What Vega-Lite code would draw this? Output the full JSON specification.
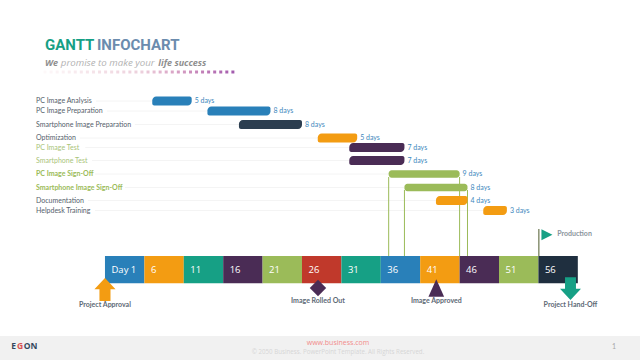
{"$schema":"https://vega.github.io/schema/vega-lite/v6.json","width":640,"height":360,"padding":0,"autosize":{"type":"none"},"background":"white","config":{"view":{"stroke":null},"text":{"font":"Lato"}},
"encoding":{"x":{"field":"day","type":"quantitative","axis":null,"scale":{"domain":[-12.32,68.89],"nice":false,"zero":false,"padding":0}},"y":{"field":"lane","type":"quantitative","axis":null,"scale":{"domain":[360,0],"nice":false,"zero":false,"padding":0}}},
"datasets":{"tasks":[
{"task":"PC Image Analysis","day":7,"end":12,"lane":101,"duration":"5 days","phase":"image","guide":-0.14,"labelgroup":"plain"},
{"task":"PC Image Preparation","day":14,"end":22,"lane":111,"duration":"8 days","phase":"image","guide":1.25,"labelgroup":"plain"},
{"task":"Smartphone Image Preparation","day":18,"end":26,"lane":124.5,"duration":"8 days","phase":"phone","guide":4.8,"labelgroup":"plain"},
{"task":"Optimization","day":28,"end":33,"lane":138,"duration":"5 days","phase":"tune","guide":-2.2,"labelgroup":"plain"},
{"task":"PC Image Test","day":32,"end":39,"lane":147.5,"duration":"7 days","phase":"test","guide":-1.5,"labelgroup":"test"},
{"task":"Smartphone Test","day":32,"end":39,"lane":160.5,"duration":"7 days","phase":"test","guide":-0.65,"labelgroup":"test"},
{"task":"PC Image Sign-Off","day":37,"end":46,"lane":174,"duration":"9 days","phase":"signoff","guide":-0.27,"labelgroup":"signoff"},
{"task":"Smartphone Image Sign-Off","day":39,"end":47,"lane":187.5,"duration":"8 days","phase":"signoff","guide":3.54,"labelgroup":"signoff"},
{"task":"Documentation","day":43,"end":47,"lane":200.5,"duration":"4 days","phase":"tune","guide":-1.16,"labelgroup":"plain"},
{"task":"Helpdesk Training","day":49,"end":52,"lane":210.5,"duration":"3 days","phase":"tune","guide":-0.27,"labelgroup":"plain"}],
"blocks":[
{"label":"Day 1","day":1,"end":6,"lane":256,"bottom":283.3,"tone":"a"},
{"label":"6","day":6,"end":11,"lane":256,"bottom":283.3,"tone":"b"},
{"label":"11","day":11,"end":16,"lane":256,"bottom":283.3,"tone":"c"},
{"label":"16","day":16,"end":21,"lane":256,"bottom":283.3,"tone":"d"},
{"label":"21","day":21,"end":26,"lane":256,"bottom":283.3,"tone":"e"},
{"label":"26","day":26,"end":31,"lane":256,"bottom":283.3,"tone":"f"},
{"label":"31","day":31,"end":36,"lane":256,"bottom":283.3,"tone":"c"},
{"label":"36","day":36,"end":41,"lane":256,"bottom":283.3,"tone":"a"},
{"label":"41","day":41,"end":46,"lane":256,"bottom":283.3,"tone":"b"},
{"label":"46","day":46,"end":51,"lane":256,"bottom":283.3,"tone":"d"},
{"label":"51","day":51,"end":56,"lane":256,"bottom":283.3,"tone":"e"},
{"label":"56","day":56,"end":61,"lane":256,"bottom":283.3,"tone":"g"}]},
"layer":[
{"data":{"values":[{"day":-12.32,"end":68.89,"lane":336,"bottom":360}]},"mark":{"type":"rect","color":"#f1f1f1"},"encoding":{"x2":{"field":"end"},"y2":{"field":"bottom"}}},
{"data":{"name":"tasks"},"mark":{"type":"rule","color":"#f4f4f4","strokeWidth":1},"encoding":{"x":{"field":"guide","type":"quantitative"},"x2":{"field":"day"}}},
{"data":{"values":[{"day":37,"lane":177,"bottom":256},{"day":46,"lane":177,"bottom":256},{"day":39,"lane":190,"bottom":256},{"day":47,"lane":190,"bottom":256}]},"mark":{"type":"rule","color":"#9bbb59","strokeWidth":1},"encoding":{"y2":{"field":"bottom"}}},
{"data":{"name":"tasks"},"transform":[{"filter":"datum.phase !== 'signoff'"}],"mark":{"type":"bar","orient":"horizontal","height":9,"cornerRadiusTopLeft":4,"cornerRadiusBottomLeft":2,"cornerRadiusTopRight":2,"cornerRadiusBottomRight":4},"encoding":{"x2":{"field":"end"},"color":{"field":"phase","type":"nominal","legend":null,"scale":{"domain":["image","phone","tune","test"],"range":["#2980b9","#2c3e50","#f39c12","#4a2c55"]}}}},
{"data":{"name":"tasks"},"transform":[{"filter":"datum.phase === 'signoff'"}],"mark":{"type":"bar","orient":"horizontal","height":7.5,"cornerRadius":3,"color":"#9bbb59"},"encoding":{"x2":{"field":"end"}}},
{"data":{"name":"tasks"},"mark":{"type":"text","align":"left","baseline":"middle","dx":3,"fontSize":7,"color":"#3d87bd"},"encoding":{"x":{"field":"end","type":"quantitative"},"text":{"field":"duration"}}},
{"data":{"name":"tasks"},"transform":[{"filter":"datum.labelgroup === 'plain'"}],"mark":{"type":"text","align":"left","baseline":"middle","fontSize":7,"color":"#55606b"},"encoding":{"x":{"datum":-7.755},"text":{"field":"task"}}},
{"data":{"name":"tasks"},"transform":[{"filter":"datum.labelgroup === 'test'"}],"mark":{"type":"text","align":"left","baseline":"middle","fontSize":7,"color":"#a9c47a"},"encoding":{"x":{"datum":-7.755},"text":{"field":"task"}}},
{"data":{"name":"tasks"},"transform":[{"filter":"datum.labelgroup === 'signoff'"}],"mark":{"type":"text","align":"left","baseline":"middle","fontSize":7,"fontWeight":"bold","color":"#9bbb59"},"encoding":{"x":{"datum":-7.755},"text":{"field":"task"}}},
{"data":{"name":"blocks"},"mark":{"type":"rect"},"encoding":{"x2":{"field":"end"},"y2":{"field":"bottom"},"color":{"field":"tone","type":"nominal","legend":null,"scale":{"domain":["a","b","c","d","e","f","g"],"range":["#2980b9","#f39c12","#16a085","#4a2c55","#9bbb59","#c0392b","#1f2f3f"]}}}},
{"data":{"name":"blocks"},"mark":{"type":"text","align":"left","baseline":"middle","dx":6.5,"font":"Open Sans","fontSize":9.5,"color":"#ffffff"},"encoding":{"y":{"datum":270},"text":{"field":"label"}}},
{"data":{"values":[{"day":56.06,"lane":229,"bottom":256}]},"mark":{"type":"rule","color":"#4e5a2c","strokeWidth":1},"encoding":{"y2":{"field":"bottom"}}},
{"data":{"values":[{"day":1,"lane":289.5}]},"mark":{"type":"point","filled":true,"opacity":1,"color":"#f39c12","size":529,"shape":"M0,-1 L0.92,-0.02 L0.48,-0.02 L0.48,1 L-0.48,1 L-0.48,-0.02 L-0.92,-0.02 Z"}},
{"data":{"values":[{"day":28.03,"lane":288}]},"mark":{"type":"point","filled":true,"opacity":1,"color":"#4a2c55","size":270,"shape":"diamond"}},
{"data":{"values":[{"day":43.04,"lane":288}]},"mark":{"type":"point","filled":true,"opacity":1,"color":"#4a2c55","size":303,"shape":"M0,-1 L0.9,1 L-0.9,1 Z"}},
{"data":{"values":[{"day":60.07,"lane":288.6}]},"mark":{"type":"point","filled":true,"opacity":1,"color":"#16a085","size":520,"shape":"M-0.48,-1 L0.48,-1 L0.48,0.02 L0.92,0.02 L0,1 L-0.92,0.02 L-0.48,0.02 Z"}},
{"data":{"values":[{"day":57.08,"lane":234.7}]},"mark":{"type":"point","filled":true,"opacity":1,"color":"#16a085","size":121,"shape":"M-1,-1 L1,0 L-1,1 Z"}},
{"data":{"values":[{"day":1,"lane":305,"note":"Project Approval"},{"day":28.03,"lane":301,"note":"Image Rolled Out"},{"day":43.04,"lane":301,"note":"Image Approved"},{"day":60.07,"lane":305,"note":"Project Hand-Off"}]},"mark":{"type":"text","align":"center","baseline":"middle","fontSize":7,"fontWeight":"bold","color":"#5d6975"},"encoding":{"text":{"field":"note"}}},
{"data":{"values":[{"day":58.39,"lane":234,"note":"Production"}]},"mark":{"type":"text","align":"left","baseline":"middle","fontSize":7,"fontWeight":"bold","color":"#8a949c"},"encoding":{"text":{"field":"note"}}},
{"data":{"values":[{"day":-6.61,"lane":45,"note":"GANTT"}]},"mark":{"type":"text","align":"left","baseline":"middle","font":"Roboto","fontSize":15,"fontWeight":"bold","color":"#16a085"},"encoding":{"text":{"field":"note"}}},
{"data":{"values":[{"day":-0.02,"lane":45,"note":"INFOCHART"}]},"mark":{"type":"text","align":"left","baseline":"middle","font":"Roboto","fontSize":15,"fontWeight":"bold","color":"#6b8cae"},"encoding":{"text":{"field":"note"}}},
{"data":{"values":[{"day":-6.61,"lane":62.5,"note":"We"},{"day":7.77,"lane":62.5,"note":"life success"}]},"mark":{"type":"text","align":"left","baseline":"middle","font":"Open Sans","fontSize":9,"fontStyle":"italic","fontWeight":"bold","color":"#8f8f8f"},"encoding":{"text":{"field":"note"}}},
{"data":{"values":[{"day":-4.6,"lane":62.5,"note":"promise to make your"}]},"mark":{"type":"text","align":"left","baseline":"middle","font":"Open Sans","fontSize":9.7,"fontStyle":"italic","color":"#b3b3b3"},"encoding":{"text":{"field":"note"}}},
{"data":{"values":[{"day":-6.61,"lane":72,"fade":0},{"day":-5.84,"lane":72,"fade":1},{"day":-5.07,"lane":72,"fade":2},{"day":-4.3,"lane":72,"fade":3},{"day":-3.53,"lane":72,"fade":4},{"day":-2.77,"lane":72,"fade":5},{"day":-2.0,"lane":72,"fade":6},{"day":-1.23,"lane":72,"fade":7},{"day":-0.46,"lane":72,"fade":8},{"day":0.31,"lane":72,"fade":9},{"day":1.08,"lane":72,"fade":10},{"day":1.85,"lane":72,"fade":11},{"day":2.62,"lane":72,"fade":12},{"day":3.39,"lane":72,"fade":13},{"day":4.16,"lane":72,"fade":14},{"day":4.93,"lane":72,"fade":15},{"day":5.69,"lane":72,"fade":16},{"day":6.46,"lane":72,"fade":17},{"day":7.23,"lane":72,"fade":18},{"day":8.0,"lane":72,"fade":19},{"day":8.77,"lane":72,"fade":20},{"day":9.54,"lane":72,"fade":21},{"day":10.31,"lane":72,"fade":22},{"day":11.08,"lane":72,"fade":23},{"day":11.85,"lane":72,"fade":24},{"day":12.62,"lane":72,"fade":25},{"day":13.38,"lane":72,"fade":26},{"day":14.15,"lane":72,"fade":27},{"day":14.92,"lane":72,"fade":28},{"day":15.69,"lane":72,"fade":29},{"day":16.46,"lane":72,"fade":30},{"day":17.23,"lane":72,"fade":31}]},"mark":{"type":"square","size":9,"opacity":1},"encoding":{"color":{"field":"fade","type":"quantitative","legend":null,"scale":{"domain":[0,16,31],"range":["#fdf8f9","#eccfdc","#a35cae"]}}}},
{"data":{"values":[{"day":-10.88,"lane":346,"note":"E"}]},"mark":{"type":"text","align":"left","baseline":"middle","font":"Open Sans","fontSize":8.5,"fontWeight":"bold","color":"#34495e"},"encoding":{"text":{"field":"note"}}},
{"data":{"values":[{"day":-10.15,"lane":346,"note":"G"}]},"mark":{"type":"text","align":"left","baseline":"middle","font":"Open Sans","fontSize":8.5,"fontWeight":"bold","color":"#d9534f"},"encoding":{"text":{"field":"note"}}},
{"data":{"values":[{"day":-9.3,"lane":346,"note":"ON"}]},"mark":{"type":"text","align":"left","baseline":"middle","font":"Open Sans","fontSize":8.5,"fontWeight":"bold","color":"#34495e"},"encoding":{"text":{"field":"note"}}},
{"data":{"values":[{"day":30.57,"lane":343,"note":"www.business.com"}]},"mark":{"type":"text","align":"center","baseline":"middle","font":"Open Sans","fontSize":7,"color":"#f28b8b"},"encoding":{"text":{"field":"note"}}},
{"data":{"values":[{"day":30.57,"lane":352,"note":"© 2050 Business. PowerPoint Template. All Rights Reserved."}]},"mark":{"type":"text","align":"center","baseline":"middle","font":"Open Sans","fontSize":6.2,"color":"#d6d6d6"},"encoding":{"text":{"field":"note"}}},
{"data":{"values":[{"day":65.6,"lane":347,"note":"1"}]},"mark":{"type":"text","align":"center","baseline":"middle","fontSize":7,"color":"#a8a8a8"},"encoding":{"text":{"field":"note"}}}
]}
